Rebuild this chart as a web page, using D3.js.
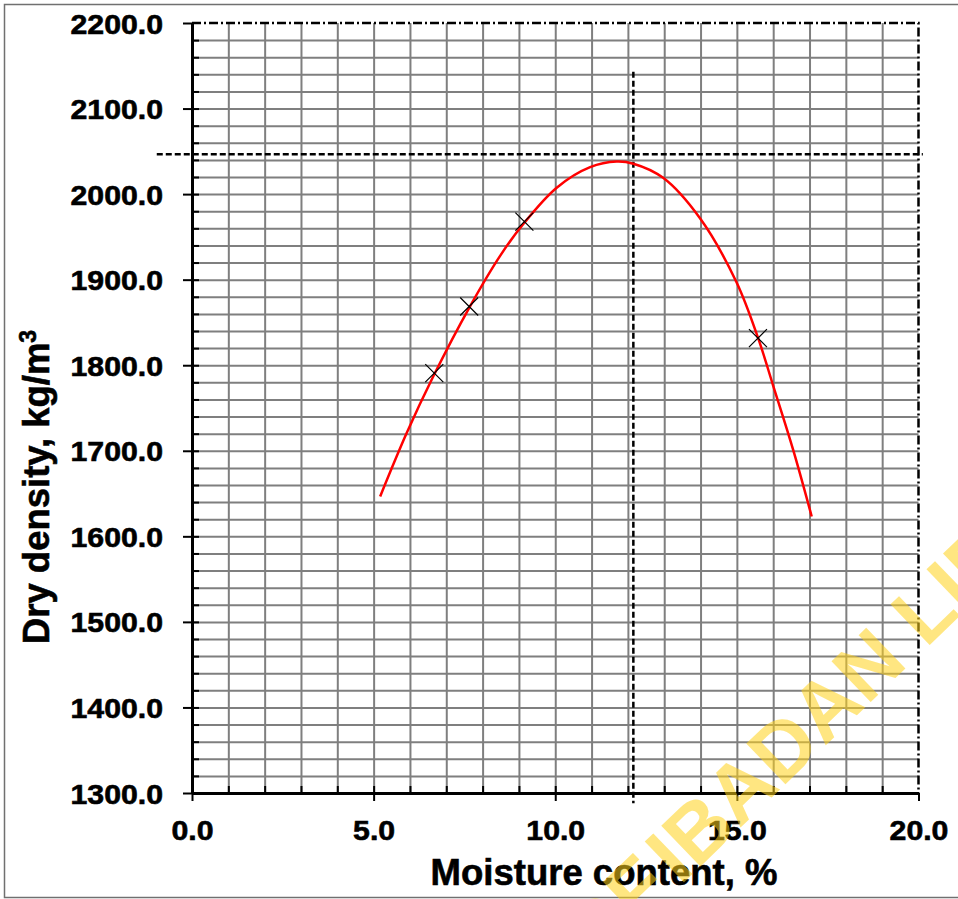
<!DOCTYPE html>
<html>
<head>
<meta charset="utf-8">
<script src="https://cdn.jsdelivr.net/npm/d3@7"></script>
<style>
  html, body { margin: 0; padding: 0; background: #fff; }
  svg { display: block; }
  text { font-family: "Liberation Sans", Arial, sans-serif; font-weight: bold; }
</style>
</head>
<body>
<div id="chart"></div>
<script>
'use strict';

// measured compaction points (moisture %, dry density kg/m3)
const moisture = [6.67, 7.63, 9.15, 15.58];
const density = [1790.8, 1868.6, 1967.9, 1831.7];

// fitted curve
const curveMoisture = [5.18, 5.91, 6.64, 7.65, 8.5, 9.12, 10.04, 10.96, 11.69, 12.15, 12.97, 13.98, 14.99, 15.59, 16.0, 16.55, 17.06];
const curveDensity = [1646.6, 1720.7, 1786.8, 1868.6, 1929.0, 1965.0, 2007.5, 2031.5, 2038.0, 2035.5, 2019.0, 1972.0, 1897.0, 1831.0, 1776.0, 1701.0, 1623.2];

// optimum moisture / maximum dry density guide lines
const omc = { x: 12.15, y0: 1288, y1: 2143 };
const mdd = { y: 2046.6, x0: -0.97, x1: 20.12 };

const xTicks = [0, 5, 10, 15, 20];
const yTicks = [1300, 1400, 1500, 1600, 1700, 1800, 1900, 2000, 2100, 2200];

const W = 958, H = 899;
const margin = { left: 192, top: 23, right: 40, bottom: 106 };
const iw = 918.5 - margin.left;
const ih = 793 - margin.top;

const svg = d3.select('#chart').append('svg')
  .attr('width', W)
  .attr('height', H);

// outer frame
svg.append('rect')
  .attr('x', 4.5).attr('y', 4.5)
  .attr('width', W + 10).attr('height', 893)
  .attr('fill', 'none')
  .attr('stroke', '#707070')
  .attr('stroke-width', 1.5);

const x = d3.scaleLinear().domain([0, 20]).range([0, iw]);
const y = d3.scaleLinear().domain([1300, 2200]).range([ih, 0]);

const g = svg.append('g').attr('transform', `translate(${margin.left},${margin.top})`);

// grid every 1 % and every 20 kg/m3
g.append('g')
  .attr('transform', `translate(0,${ih})`)
  .call(d3.axisBottom(x).tickValues(d3.range(1, 20, 1)).tickSize(-ih).tickFormat(''))
  .call(s => s.select('.domain').remove())
  .selectAll('line').attr('stroke', '#7f7f7f').attr('stroke-width', 2);

g.append('g')
  .call(d3.axisLeft(y).tickValues(d3.range(1320, 2200, 20)).tickSize(-iw).tickFormat(''))
  .call(s => s.select('.domain').remove())
  .selectAll('line').attr('stroke', '#7f7f7f').attr('stroke-width', 2);

// top and right border, dash-dot
g.append('path')
  .attr('d', `M0,0H${iw}V${ih}`)
  .attr('fill', 'none')
  .attr('stroke', '#000')
  .attr('stroke-width', 2.5)
  .attr('stroke-dasharray', '9,3,2,3');

// minor ticks pointing inward
g.append('g')
  .attr('transform', `translate(0,${ih})`)
  .call(d3.axisTop(x).tickValues(d3.range(1, 20, 1)).tickSize(7).tickFormat(''))
  .call(s => s.select('.domain').remove())
  .selectAll('line').attr('stroke', '#000').attr('stroke-width', 2);

g.append('g')
  .call(d3.axisRight(y).tickValues(d3.range(1320, 2200, 20)).tickSize(7).tickFormat(''))
  .call(s => s.select('.domain').remove())
  .selectAll('line').attr('stroke', '#000').attr('stroke-width', 2);

// main axes
const xAxis = g.append('g')
  .attr('transform', `translate(0,${ih})`)
  .call(d3.axisBottom(x).tickValues(xTicks).tickSize(8).tickSizeOuter(0).tickFormat(d3.format('.1f')));

const yAxis = g.append('g')
  .call(d3.axisLeft(y).tickValues(yTicks).tickSize(9).tickSizeOuter(0).tickFormat(d3.format('.1f')));

[xAxis, yAxis].forEach(a => {
  a.select('.domain').attr('stroke', '#000').attr('stroke-width', 3);
  a.selectAll('line').attr('stroke', '#000').attr('stroke-width', 2);
  a.selectAll('text')
    .attr('fill', '#000')
    .attr('stroke', '#000')
    .attr('stroke-width', 0.6)
    .style('font-size', '27.5px');
});

// widen tick labels a touch, as in the original rendering
xAxis.selectAll('.tick text')
  .attr('y', null).attr('dy', null)
  .attr('transform', 'translate(0,47) scale(1.1,1)');
yAxis.selectAll('.tick text')
  .attr('x', null).attr('dy', null)
  .attr('transform', 'translate(-29,10) scale(1.1,1)');

// guide lines
g.append('line')
  .attr('x1', x(mdd.x0)).attr('x2', x(mdd.x1))
  .attr('y1', y(mdd.y)).attr('y2', y(mdd.y))
  .attr('stroke', '#000').attr('stroke-width', 2.5)
  .attr('stroke-dasharray', '6,3');

g.append('line')
  .attr('x1', x(omc.x)).attr('x2', x(omc.x))
  .attr('y1', y(omc.y1)).attr('y2', y(omc.y0))
  .attr('stroke', '#000').attr('stroke-width', 2.5)
  .attr('stroke-dasharray', '6,3');

// fitted curve
const line = d3.line()
  .x(d => x(d[0]))
  .y(d => y(d[1]))
  .curve(d3.curveCatmullRom.alpha(0.5));

g.append('path')
  .datum(d3.zip(curveMoisture, curveDensity))
  .attr('d', line)
  .attr('fill', 'none')
  .attr('stroke', '#ff0000')
  .attr('stroke-width', 2.5);

// X markers
const m = 9;
g.selectAll('.pt')
  .data(d3.zip(moisture, density))
  .enter()
  .append('path')
  .attr('class', 'pt')
  .attr('transform', d => `translate(${x(d[0])},${y(d[1])})`)
  .attr('d', `M${-m},${-m}L${m},${m}M${-m},${m}L${m},${-m}`)
  .attr('stroke', '#000')
  .attr('stroke-width', 1.2)
  .attr('fill', 'none');

// axis titles
svg.append('text')
  .attr('x', 604)
  .attr('y', 885)
  .attr('text-anchor', 'middle')
  .attr('stroke', '#000')
  .attr('stroke-width', 0.6)
  .style('font-size', '36.5px')
  .text('Moisture content, %');

const yt = svg.append('text')
  .attr('transform', 'translate(49,487) rotate(-90)')
  .attr('text-anchor', 'middle')
  .attr('stroke', '#000')
  .attr('stroke-width', 0.6)
  .style('font-size', '36.5px');
yt.append('tspan').text('Dry density, kg/m');
yt.append('tspan').attr('dy', -13).style('font-size', '23px').text('3');

// library watermark
const wm = svg.append('g')
  .attr('transform', 'translate(680,886) rotate(-44)')
  .attr('fill', '#ffd21a')
  .attr('fill-opacity', 0.55)
  .style('font-size', '82px');
wm.append('text').attr('x', -8).attr('text-anchor', 'end').text('UNIVERSITY OF');
wm.append('text').attr('x', 0).text('IBADAN LIBRARY');
</script>
</body>
</html>
